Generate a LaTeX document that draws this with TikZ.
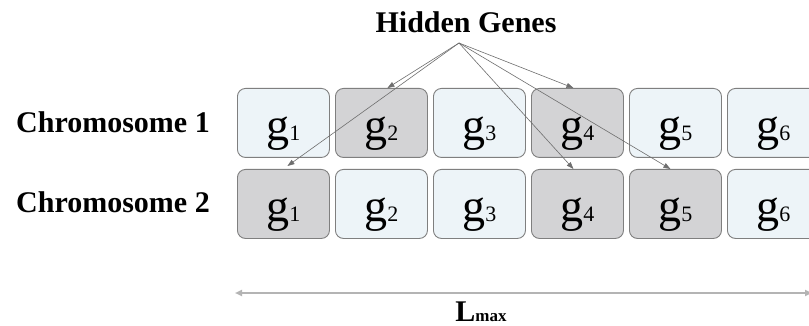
\documentclass[tikz,border=0pt]{standalone}
\usepackage{fontspec}
\setmainfont{Liberation Serif}
\usetikzlibrary{arrows.meta,calc}
\definecolor{genelight}{HTML}{EDF4F8}
\definecolor{genedark}{HTML}{D3D3D5}
\definecolor{geneedge}{HTML}{7F7F7F}
\definecolor{pointer}{HTML}{6E6E6E}
\definecolor{scaleline}{HTML}{B4B4B4}
\newcommand{\gene}[1]{{\fontsize{46}{46}\selectfont g}{\fontsize{22}{22}\selectfont #1}}
\begin{document}
\begin{tikzpicture}[x=1pt,y=-1pt,
  genebox/.style={draw=geneedge,line width=0.9pt,rounded corners=8pt,
    minimum width=92pt,minimum height=69pt,inner sep=0pt,anchor=north west},
  lightgene/.style={genebox,fill=genelight},
  darkgene/.style={genebox,fill=genedark},
  genelabel/.style={anchor=base,inner sep=0pt},
  rowlabel/.style={anchor=base,inner sep=0pt,font=\bfseries\fontsize{30}{30}\selectfont},
  pointerline/.style={draw=pointer,line width=0.6pt,
    -{Triangle[length=7pt,width=5pt]}}]
\clip (0,0) rectangle (809,326);
\useasboundingbox (0,0) rectangle (809,326);
\fill[white] (0,0) rectangle (809,326);

% row labels
\node[rowlabel] (c1) at (113,133) {Chromosome 1};
\node[rowlabel] (c2) at (113,212) {Chromosome 2};

% chromosome 1
\node[lightgene] (a1) at (237,88) {};
\node[darkgene]  (a2) at (335,88) {};
\node[lightgene] (a3) at (433,88) {};
\node[darkgene]  (a4) at (531,88) {};
\node[lightgene] (a5) at (629,88) {};
\node[lightgene] (a6) at (727,88) {};
% chromosome 2
\node[darkgene]  (b1) at (237,169) {};
\node[lightgene] (b2) at (335,169) {};
\node[lightgene] (b3) at (433,169) {};
\node[darkgene]  (b4) at (531,169) {};
\node[darkgene]  (b5) at (629,169) {};
\node[lightgene] (b6) at (727,169) {};

\foreach \i in {1,...,6}{
  \node[genelabel] (la\i) at ($(a\i.center)+(0,18)$) {\gene{\i}};
  \node[genelabel] (lb\i) at ($(b\i.center)+(0,18)$) {\gene{\i}};
}

% hidden genes and pointers
\node[anchor=base,inner sep=0pt,font=\bfseries\fontsize{30}{30}\selectfont] (hg) at (466,33) {Hidden Genes};
\coordinate (src) at (459,43);
\draw[pointerline] (src) -- ($(a2.north)+(6,0)$);
\draw[pointerline] (src) -- ($(a4.north)+(-4,0)$);
\draw[pointerline] (src) -- ($(b1.north)+(4,-3)$);
\draw[pointerline] (src) -- ($(b4.north)+(-4,0)$);
\draw[pointerline] (src) -- ($(b5.north)+(-5,0)$);

% length scale
\coordinate (lleft) at (235,293);
\coordinate (lright) at (812,293);
\draw[scaleline,line width=1.8pt,{Triangle[length=7pt,width=6pt]}-{Triangle[length=7pt,width=6pt]}] (lleft) -- (lright);
\node[anchor=base,inner sep=0pt] (lmax) at (481,321) {\bfseries{\fontsize{30}{30}\selectfont L}{\fontsize{17}{17}\selectfont max}};
\end{tikzpicture}
\end{document}
